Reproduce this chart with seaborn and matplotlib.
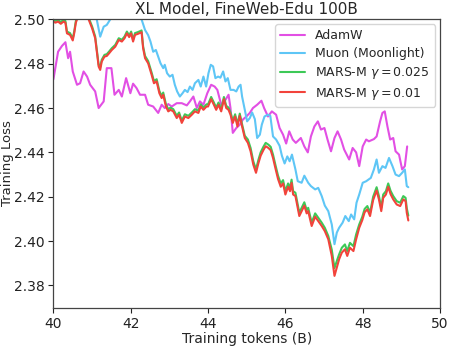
import numpy as np
import pandas as pd
import matplotlib
matplotlib.use("Agg")
import matplotlib.pyplot as plt
import seaborn as sns

adamw_tokens = [40.00, 40.12, 40.22, 40.31, 40.38, 40.43, 40.50, 40.61, 40.69, 40.78, 40.87, 40.95,
                41.08, 41.17, 41.30, 41.38, 41.50, 41.58, 41.69, 41.77, 41.88, 41.99, 42.06, 42.15,
                42.24, 42.37, 42.45, 42.58, 42.71, 42.80, 42.88, 42.97, 43.06, 43.19, 43.32, 43.45,
                43.53, 43.62, 43.71, 43.79, 43.88, 43.98, 44.08, 44.17, 44.24, 44.34, 44.45, 44.53,
                44.58, 44.64, 44.73, 44.82, 44.90, 44.99, 45.08, 45.16, 45.27, 45.38, 45.45, 45.55,
                45.65, 45.76, 45.85, 45.94, 46.02, 46.10, 46.19, 46.27, 46.40, 46.49, 46.58, 46.66,
                46.75, 46.84, 46.92, 47.01, 47.09, 47.18, 47.27, 47.35, 47.44, 47.52, 47.65, 47.74,
                47.83, 47.91, 48.00, 48.09, 48.16, 48.29, 48.36, 48.45, 48.51, 48.57, 48.64, 48.71,
                48.79, 48.85, 48.94, 49.02, 49.09, 49.15]
adamw_loss = [2.4730, 2.4854, 2.4880, 2.4897, 2.4825, 2.4854, 2.4765, 2.4705, 2.4712, 2.4765, 2.4742, 2.4705,
              2.4675, 2.4600, 2.4630, 2.4780, 2.4780, 2.4660, 2.4682, 2.4652, 2.4735, 2.4667, 2.4710, 2.4690,
              2.4660, 2.4660, 2.4615, 2.4607, 2.4578, 2.4615, 2.4600, 2.4618, 2.4607, 2.4622, 2.4622, 2.4612,
              2.4630, 2.4652, 2.4600, 2.4630, 2.4615, 2.4667, 2.4705, 2.4697, 2.4682, 2.4615, 2.4637, 2.4660,
              2.4600, 2.4488, 2.4510, 2.4525, 2.4548, 2.4562, 2.4578, 2.4600, 2.4615, 2.4633, 2.4600, 2.4562,
              2.4585, 2.4570, 2.4510, 2.4480, 2.4440, 2.4495, 2.4458, 2.4443, 2.4465, 2.4427, 2.4400, 2.4472,
              2.4517, 2.4540, 2.4503, 2.4510, 2.4458, 2.4405, 2.4465, 2.4495, 2.4458, 2.4413, 2.4368, 2.4420,
              2.4400, 2.4338, 2.4427, 2.4458, 2.4450, 2.4460, 2.4472, 2.4540, 2.4578, 2.4585, 2.4517, 2.4458,
              2.4465, 2.4405, 2.4390, 2.4323, 2.4338, 2.4427]

muon_tokens = [40.00, 40.40, 40.80, 41.05, 41.12, 41.21, 41.30, 41.38, 41.47, 41.60, 41.80, 42.00,
               42.15, 42.28, 42.37, 42.45, 42.51, 42.58, 42.65, 42.71, 42.77, 42.84, 42.88, 42.94,
               43.01, 43.08, 43.14, 43.20, 43.27, 43.34, 43.40, 43.47, 43.53, 43.60, 43.66, 43.75,
               43.81, 43.88, 43.95, 44.01, 44.07, 44.13, 44.19, 44.26, 44.32, 44.39, 44.45, 44.51,
               44.58, 44.66, 44.73, 44.79, 44.84, 44.88, 44.95, 45.01, 45.08, 45.14, 45.21, 45.27,
               45.34, 45.39, 45.46, 45.55, 45.61, 45.68, 45.76, 45.85, 45.91, 45.98, 46.05, 46.11,
               46.17, 46.26, 46.32, 46.42, 46.49, 46.59, 46.66, 46.77, 46.85, 46.94, 47.02, 47.11,
               47.20, 47.27, 47.33, 47.39, 47.48, 47.55, 47.64, 47.70, 47.78, 47.84, 47.91, 48.00,
               48.09, 48.21, 48.29, 48.36, 48.42, 48.51, 48.59, 48.68, 48.77, 48.85, 48.94, 49.02,
               49.09, 49.14, 49.18]
muon_loss = [2.5120, 2.5080, 2.5060, 2.5030, 2.5000, 2.4922, 2.4967, 2.4975, 2.5000, 2.5040, 2.5060, 2.5050,
             2.5030, 2.5000, 2.4952, 2.4929, 2.4900, 2.4854, 2.4862, 2.4832, 2.4802, 2.4780, 2.4795, 2.4757,
             2.4742, 2.4750, 2.4705, 2.4675, 2.4652, 2.4667, 2.4682, 2.4672, 2.4697, 2.4682, 2.4712, 2.4727,
             2.4697, 2.4742, 2.4697, 2.4757, 2.4795, 2.4788, 2.4735, 2.4742, 2.4737, 2.4765, 2.4720, 2.4735,
             2.4682, 2.4682, 2.4675, 2.4697, 2.4705, 2.4652, 2.4592, 2.4540, 2.4555, 2.4580, 2.4550, 2.4465,
             2.4480, 2.4525, 2.4562, 2.4570, 2.4565, 2.4472, 2.4458, 2.4430, 2.4385, 2.4350, 2.4382, 2.4360,
             2.4390, 2.4323, 2.4270, 2.4263, 2.4295, 2.4263, 2.4248, 2.4233, 2.4240, 2.4203, 2.4160, 2.4135,
             2.4075, 2.3986, 2.4038, 2.4060, 2.4083, 2.4113, 2.4090, 2.4120, 2.4098, 2.4173, 2.4210, 2.4263,
             2.4270, 2.4285, 2.4323, 2.4368, 2.4308, 2.4338, 2.4330, 2.4375, 2.4338, 2.4300, 2.4293, 2.4308,
             2.4323, 2.4248, 2.4243]

mars_tokens = [40.00, 40.05, 40.12, 40.19, 40.26, 40.31, 40.35, 40.43, 40.50, 40.54, 40.58, 40.63,
               40.74, 40.84, 40.91, 41.00, 41.08, 41.17, 41.21, 41.25, 41.32, 41.38, 41.44, 41.51,
               41.60, 41.69, 41.77, 41.84, 41.90, 41.96, 42.01, 42.06, 42.11, 42.19, 42.28, 42.32,
               42.37, 42.45, 42.54, 42.60, 42.67, 42.74, 42.80, 42.84, 42.91, 42.97, 43.03, 43.10,
               43.19, 43.25, 43.32, 43.40, 43.49, 43.58, 43.66, 43.75, 43.81, 43.88, 43.96, 44.00,
               44.08, 44.15, 44.21, 44.27, 44.34, 44.41, 44.47, 44.53, 44.58, 44.64, 44.70, 44.76,
               44.82, 44.88, 44.95, 45.03, 45.10, 45.17, 45.24, 45.30, 45.36, 45.43, 45.49, 45.56,
               45.62, 45.68, 45.74, 45.81, 45.88, 45.94, 46.00, 46.07, 46.12, 46.16, 46.20, 46.26,
               46.32, 46.36, 46.42, 46.49, 46.55, 46.59, 46.68, 46.77, 46.85, 46.94, 47.02, 47.11,
               47.20, 47.27, 47.33, 47.39, 47.46, 47.54, 47.60, 47.67, 47.76, 47.83, 47.91, 47.99,
               48.05, 48.12, 48.19, 48.27, 48.36, 48.42, 48.48, 48.53, 48.60, 48.66, 48.72, 48.79,
               48.88, 48.97, 49.05, 49.11, 49.14, 49.18]
mars_g025_loss = [2.4998, 2.4993, 2.4998, 2.4988, 2.4998, 2.4993, 2.4945, 2.4938, 2.4913, 2.4948, 2.4993, 2.5018,
                  2.5048, 2.5038, 2.5008, 2.4968, 2.4923, 2.4795, 2.4785, 2.4818, 2.4840, 2.4843, 2.4855, 2.4870,
                  2.4885, 2.4915, 2.4908, 2.4923, 2.4945, 2.4928, 2.4945, 2.4908, 2.4938, 2.4943, 2.4950, 2.4878,
                  2.4835, 2.4812, 2.4760, 2.4722, 2.4730, 2.4677, 2.4655, 2.4670, 2.4617, 2.4595, 2.4602, 2.4595,
                  2.4565, 2.4580, 2.4543, 2.4572, 2.4565, 2.4580, 2.4595, 2.4588, 2.4617, 2.4602, 2.4617, 2.4617,
                  2.4650, 2.4625, 2.4602, 2.4625, 2.4595, 2.4650, 2.4610, 2.4602, 2.4580, 2.4543, 2.4572, 2.4527,
                  2.4575, 2.4527, 2.4475, 2.4458, 2.4420, 2.4360, 2.4323, 2.4365, 2.4400, 2.4425, 2.4443, 2.4435,
                  2.4425, 2.4390, 2.4345, 2.4295, 2.4260, 2.4275, 2.4225, 2.4260, 2.4240, 2.4277, 2.4225, 2.4218,
                  2.4163, 2.4128, 2.4150, 2.4175, 2.4140, 2.4150, 2.4083, 2.4125, 2.4105, 2.4083, 2.4060, 2.4023,
                  2.3961, 2.3878, 2.3910, 2.3940, 2.3970, 2.3985, 2.3955, 2.3992, 2.3977, 2.4030, 2.4075, 2.4110,
                  2.4145, 2.4158, 2.4128, 2.4200, 2.4243, 2.4203, 2.4150, 2.4210, 2.4225, 2.4260, 2.4227, 2.4203,
                  2.4180, 2.4173, 2.4203, 2.4195, 2.4148, 2.4115]
mars_g01_loss = [2.4990, 2.4985, 2.4990, 2.4980, 2.4990, 2.4985, 2.4937, 2.4930, 2.4905, 2.4940, 2.4985, 2.5010,
                 2.5040, 2.5030, 2.5000, 2.4960, 2.4915, 2.4787, 2.4772, 2.4810, 2.4832, 2.4835, 2.4847, 2.4862,
                 2.4877, 2.4907, 2.4900, 2.4915, 2.4937, 2.4920, 2.4937, 2.4900, 2.4930, 2.4935, 2.4942, 2.4870,
                 2.4825, 2.4802, 2.4750, 2.4712, 2.4720, 2.4667, 2.4645, 2.4660, 2.4607, 2.4585, 2.4592, 2.4585,
                 2.4555, 2.4570, 2.4533, 2.4562, 2.4555, 2.4570, 2.4585, 2.4578, 2.4607, 2.4592, 2.4607, 2.4607,
                 2.4640, 2.4615, 2.4592, 2.4615, 2.4585, 2.4640, 2.4600, 2.4592, 2.4570, 2.4533, 2.4562, 2.4517,
                 2.4565, 2.4517, 2.4465, 2.4443, 2.4405, 2.4345, 2.4308, 2.4350, 2.4385, 2.4410, 2.4428, 2.4420,
                 2.4410, 2.4375, 2.4330, 2.4280, 2.4245, 2.4260, 2.4210, 2.4245, 2.4225, 2.4262, 2.4210, 2.4203,
                 2.4148, 2.4113, 2.4135, 2.4160, 2.4125, 2.4135, 2.4068, 2.4110, 2.4090, 2.4068, 2.4045, 2.4008,
                 2.3933, 2.3843, 2.3880, 2.3918, 2.3948, 2.3963, 2.3933, 2.3970, 2.3955, 2.4008, 2.4060, 2.4095,
                 2.4130, 2.4143, 2.4113, 2.4185, 2.4228, 2.4188, 2.4135, 2.4195, 2.4210, 2.4245, 2.4212, 2.4188,
                 2.4165, 2.4158, 2.4188, 2.4180, 2.4128, 2.4093]

labels = ["AdamW", "Muon (Moonlight)", r"MARS-M $\gamma=0.025$", r"MARS-M $\gamma=0.01$"]
colors = ["#e24fe4", "#5ec6f6", "#3dc957", "#f2433b"]

frames = []
for lab, xs, ys in zip(labels,
                       [adamw_tokens, muon_tokens, mars_tokens, mars_tokens],
                       [adamw_loss, muon_loss, mars_g025_loss, mars_g01_loss]):
    frames.append(pd.DataFrame({"tokens": xs, "loss": ys, "method": lab}))
df = pd.concat(frames, ignore_index=True)

sns.set_style("ticks")
plt.rcParams["font.family"] = ["DejaVu Sans"]
plt.rcParams["mathtext.fontset"] = "dejavusans"

fig = plt.figure(figsize=(4.49, 3.46), dpi=100)
ax = fig.add_axes([0.119, 0.111, 0.861, 0.833])
sns.lineplot(data=df, x="tokens", y="loss", hue="method", hue_order=labels,
             palette=dict(zip(labels, colors)), estimator=None, sort=False,
             linewidth=1.5, ax=ax)

ax.set_xlim(40, 50)
ax.set_ylim(2.37, 2.50)
ax.set_xticks([40, 42, 44, 46, 48, 50])
ax.set_yticks([2.38, 2.40, 2.42, 2.44, 2.46, 2.48, 2.50])
ax.set_yticklabels(["2.38", "2.40", "2.42", "2.44", "2.46", "2.48", "2.50"])
ax.tick_params(labelsize=10, direction="out", length=3.5, width=0.8, pad=3, colors="#222222")
for s in ax.spines.values():
    s.set_visible(True)
    s.set_color("#444444")
    s.set_linewidth(0.9)
ax.set_xlabel("Training tokens (B)", fontsize=10, labelpad=1)
ax.set_ylabel("Training Loss", fontsize=9.5)
ax.yaxis.set_label_coords(-0.101, 0.5)
ax.set_title("XL Model, FineWeb-Edu 100B", fontsize=11, pad=4)
leg = ax.legend(loc="upper right", fontsize=9, frameon=True, framealpha=0.8,
                labelspacing=0.38, borderaxespad=0.4)
leg.get_frame().set_edgecolor("#cccccc")

fig.savefig("out.png", dpi=100)
